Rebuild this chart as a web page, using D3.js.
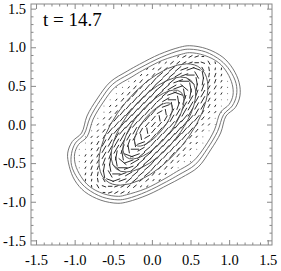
<!DOCTYPE html>
<html><head><meta charset="utf-8">
<script src="https://cdn.jsdelivr.net/npm/d3@7"></script>
<style>
html,body{margin:0;padding:0;background:#fff;}
svg{display:block;}
svg text{font-family:"Liberation Serif","Times New Roman",serif !important;}
</style>
</head><body>
<svg id="chart" width="281" height="271" font-family="Liberation Serif"></svg>
<script>
// ---------------- data ----------------
const title = "t = 14.7";
const tickValues = [-1.5, -1.0, -0.5, 0.0, 0.5, 1.0, 1.5];
const tickLabels = ["-1.5", "-1.0", "-0.5", "0.0", "0.5", "1.0", "1.5"];
const minorTickValues = [-1.4,-1.3,-1.2,-1.1,-0.9,-0.8,-0.7,-0.6,-0.4,-0.3,-0.2,-0.1,0.1,0.2,0.3,0.4,0.6,0.7,0.8,0.9,1.1,1.2,1.3,1.4];

// outer density contours (data coordinates)
const contourOuter1 = [[-0.91,-0.11],[-0.84,0.11],[-0.71,0.33],[-0.54,0.55],[-0.32,0.69],[-0.16,0.78],[0.10,0.91],[0.36,1.00],[0.49,1.02],[0.71,0.98],[0.92,0.87],[1.05,0.72],[1.13,0.54],[1.14,0.37],[1.08,0.22],[0.96,0.11],[0.89,-0.11],[0.76,-0.33],[0.60,-0.55],[0.38,-0.69],[0.21,-0.78],[-0.05,-0.91],[-0.31,-1.00],[-0.44,-1.02],[-0.66,-0.98],[-0.87,-0.87],[-1.00,-0.72],[-1.07,-0.54],[-1.09,-0.37],[-1.03,-0.22]];
const contourOuter2 = [[-0.88,-0.13],[-0.80,0.09],[-0.67,0.31],[-0.51,0.52],[-0.30,0.65],[-0.14,0.74],[0.12,0.87],[0.37,0.96],[0.49,0.975],[0.695,0.94],[0.89,0.83],[1.01,0.70],[1.09,0.53],[1.095,0.375],[1.04,0.24],[0.93,0.13],[0.85,-0.09],[0.72,-0.31],[0.56,-0.52],[0.35,-0.65],[0.19,-0.74],[-0.07,-0.87],[-0.32,-0.96],[-0.44,-0.975],[-0.64,-0.94],[-0.84,-0.83],[-0.96,-0.70],[-1.04,-0.53],[-1.04,-0.375],[-0.99,-0.24]];
const contourOuter3 = [[-0.84,-0.16],[-0.76,0.07],[-0.635,0.28],[-0.48,0.48],[-0.27,0.61],[-0.12,0.70],[0.135,0.83],[0.385,0.91],[0.485,0.93],[0.68,0.895],[0.865,0.80],[0.975,0.67],[1.04,0.52],[1.05,0.38],[1.00,0.26],[0.89,0.16],[0.81,-0.07],[0.69,-0.28],[0.53,-0.48],[0.32,-0.61],[0.17,-0.70],[-0.08,-0.83],[-0.33,-0.91],[-0.43,-0.93],[-0.63,-0.895],[-0.81,-0.80],[-0.92,-0.67],[-0.99,-0.52],[-1.00,-0.38],[-0.95,-0.26]];

// inner contours: tilted ellipses (semi-major, semi-minor), common centre and tilt
const innerSemiMajor = [0.95, 0.75, 0.55, 0.35];
const innerSemiMinor = [0.46, 0.34, 0.23, 0.13];
const innerCentre = [0.02, 0.0];
const innerTiltDeg = 50;

// velocity field on a regular grid: speed level ('.' = ~0) and direction (base-36 digit x 10 deg)
const gridX0 = -1.10, gridY0 = 0.88, gridStep = 0.08;
const fieldRowStart = [18,15,13,12,10,8,8,7,6,6,5,4,4,3,3,2,2,2,2,3,3,4,6];
const fieldSpeed = [
  "12221",
  "1122222221",
  "1122444442211",
  "11244444444221",
  ".122445555544221.",
  "..1224555555544221.",
  ".12445555555544211.",
  ".12245554444554421..",
  ".112455544444554421.",
  ".124555443344554211.",
  ".124455443334554421.",
  ".1124554433344554211.",
  ".124455433344554421.",
  ".112455443344555421.",
  ".124455444445554211.",
  "..12445544445554221.",
  ".11244555555554421.",
  ".1224455555554221..",
  ".122445555544221.",
  "12244444444211",
  "1122444442211",
  "1222222211",
  "12221"
];
const fieldDir = [
  "mllki",
  "mmmmlkigca",
  "nnmmmmkkgca88",
  "nnnmmmlkica877",
  "nnnnnmmmkiea87766",
  "nnnnnnnmmlkea876666",
  "nnnnnnnmmkga8766666",
  "nnnnnnnnmlia76666666",
  "nnnnnnnnnmka76666666",
  "nnnnnnnnnla666666555",
  "nnnnnnnnnna666555555",
  "nnnnnnnnnn55555555555",
  "nnnnnnooos5555555555",
  "nnnoooooos3555555555",
  "ooooooops24555555555",
  "ooooooops03455555555",
  "ooooopqsy2445555555",
  "oooopqsw23445555555",
  "ooppqsw0244455555",
  "ppqsu023444555",
  "qqsuy22444455",
  "suy0234444",
  "02334"
];

// ---------------- drawing ----------------
const svg = d3.select("#chart");
const x = d3.scaleLinear().domain([-1.565, 1.555]).range([31, 272]);
const y = d3.scaleLinear().domain([-1.56, 1.56]).range([245, 4]);
const speedLen = d3.scaleLinear().domain([0, 5]).range([0, 0.12]); // full arrow length in data units

svg.append("defs").append("clipPath").attr("id", "clip")
  .append("rect").attr("x", 31).attr("y", 4).attr("width", 241).attr("height", 241);
const plot = svg.append("g").attr("clip-path", "url(#clip)");

// velocity vectors
const vectors = [];
fieldSpeed.forEach((row, k) => {
  const gy = gridY0 - k * gridStep;
  for (let c = 0; c < row.length; c++) {
    const ch = row[c];
    const dc = fieldDir[k][c];
    if (ch === " " || dc === undefined || dc === " ") continue;
    const gx = gridX0 + (fieldRowStart[k] + c) * gridStep;
    const ang = parseInt(dc, 36) * 10 * Math.PI / 180;
    const level = ch === "." ? 0 : +ch;
    vectors.push({gx, gy, level, ang});
  }
});
plot.append("g").selectAll("circle").data(vectors.filter(d => d.level === 0)).join("circle")
  .attr("cx", d => x(d.gx)).attr("cy", d => y(d.gy)).attr("r", 0.55).attr("fill", "#777");
plot.append("g").selectAll("line").data(vectors.filter(d => d.level > 0)).join("line")
  .attr("x1", d => x(d.gx - Math.cos(d.ang) * speedLen(d.level) / 2))
  .attr("y1", d => y(d.gy - Math.sin(d.ang) * speedLen(d.level) / 2))
  .attr("x2", d => x(d.gx + Math.cos(d.ang) * speedLen(d.level) / 2))
  .attr("y2", d => y(d.gy + Math.sin(d.ang) * speedLen(d.level) / 2))
  .attr("stroke", "#222").attr("stroke-width", 0.95).attr("stroke-linecap", "round");

// contours
const line = d3.line().x(d => x(d[0])).y(d => y(d[1])).curve(d3.curveCatmullRomClosed.alpha(0.5));
plot.append("g").selectAll("path").data([contourOuter1, contourOuter2, contourOuter3]).join("path")
  .attr("d", line).attr("fill", "none").attr("stroke", "#666").attr("stroke-width", 0.9);
plot.append("g").selectAll("ellipse").data(innerSemiMajor.map((a, i) => ({a, b: innerSemiMinor[i]}))).join("ellipse")
  .attr("cx", x(innerCentre[0])).attr("cy", y(innerCentre[1]))
  .attr("rx", d => x(d.a) - x(0)).attr("ry", d => y(0) - y(d.b))
  .attr("transform", `rotate(${-innerTiltDeg},${x(innerCentre[0])},${y(innerCentre[1])})`)
  .attr("fill", "none").attr("stroke", "#555").attr("stroke-width", 0.9);

// axes (ticks inward on all four sides)
const axisColor = "#888";
function styleAxis(g) {
  g.attr("font-family", null).attr("font-size", null);
  g.select(".domain").remove();
  g.selectAll("line").attr("stroke", axisColor);
  g.selectAll("text").attr("fill", "#000").style("font-size", "14.5px");
}
const fmt = (d) => tickLabels[tickValues.indexOf(d)];
svg.append("g").attr("transform", "translate(0,245)")
  .call(d3.axisBottom(x).tickValues(tickValues).tickSize(-5).tickSizeOuter(0).tickPadding(10).tickFormat(fmt)).call(styleAxis);
svg.append("g").attr("transform", "translate(0,245)")
  .call(d3.axisBottom(x).tickValues(minorTickValues).tickSize(-2.5).tickSizeOuter(0).tickFormat("")).call(styleAxis);
svg.append("g").attr("transform", "translate(0,4)")
  .call(d3.axisTop(x).tickValues(tickValues).tickSize(-5).tickSizeOuter(0).tickFormat("")).call(styleAxis);
svg.append("g").attr("transform", "translate(0,4)")
  .call(d3.axisTop(x).tickValues(minorTickValues).tickSize(-2.5).tickSizeOuter(0).tickFormat("")).call(styleAxis);
svg.append("g").attr("transform", "translate(31,0)")
  .call(d3.axisLeft(y).tickValues(tickValues).tickSize(-5).tickSizeOuter(0).tickPadding(5).tickFormat(fmt)).call(styleAxis);
svg.append("g").attr("transform", "translate(31,0)")
  .call(d3.axisLeft(y).tickValues(minorTickValues).tickSize(-2.5).tickSizeOuter(0).tickFormat("")).call(styleAxis);
svg.append("g").attr("transform", "translate(272,0)")
  .call(d3.axisRight(y).tickValues(tickValues).tickSize(-5).tickSizeOuter(0).tickFormat("")).call(styleAxis);
svg.append("g").attr("transform", "translate(272,0)")
  .call(d3.axisRight(y).tickValues(minorTickValues).tickSize(-2.5).tickSizeOuter(0).tickFormat("")).call(styleAxis);
svg.append("rect").attr("x", 31).attr("y", 4).attr("width", 241).attr("height", 241)
  .attr("fill", "none").attr("stroke", axisColor).attr("stroke-width", 1);

svg.append("text").attr("x", 43).attr("y", 26).text(title)
  .style("font-size", "19px").attr("fill", "#000");
</script>
</body></html>
